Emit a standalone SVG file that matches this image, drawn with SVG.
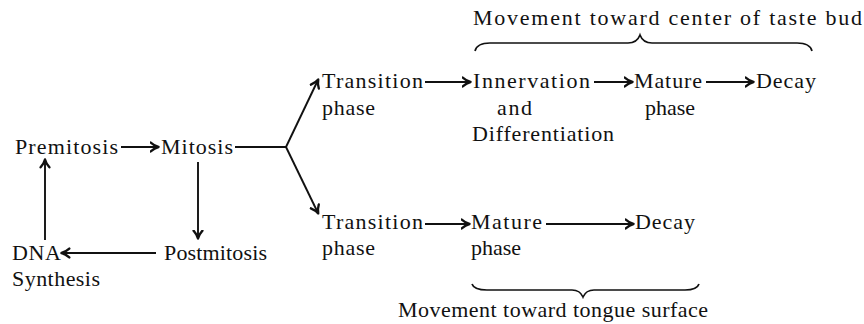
<svg xmlns="http://www.w3.org/2000/svg" width="864" height="324" viewBox="0 0 864 324" font-family="'Liberation Serif', 'Times New Roman', serif">
<style>
text{font-family:"Liberation Serif","Times New Roman",serif;font-size:22px;fill:#111}
.ln{stroke:#111;stroke-width:1.9;fill:none}
.ar{stroke:#111;stroke-width:1.9;fill:none;marker-end:url(#ah)}
.br{stroke:#111;stroke-width:1.7;fill:none}
</style>
<defs>
<marker id="ah" markerUnits="userSpaceOnUse" markerWidth="12" markerHeight="12" refX="8.5" refY="5" orient="auto" viewBox="0 0 12 10">
<path d="M1.2,0.6 Q5,4 9,5 Q5,6 1.2,9.4" stroke="#111" stroke-width="2.4" fill="none" stroke-linejoin="round" stroke-linecap="round"/>
</marker>
</defs>
<rect width="864" height="324" fill="#fff"/>
<g id="connectors">
<line class="ar" x1="121" y1="147" x2="158" y2="147"/>
<line class="ln" x1="235" y1="147" x2="286" y2="147"/>
<line class="ar" x1="286" y1="147" x2="318" y2="80"/>
<line class="ar" x1="286" y1="147" x2="318" y2="213"/>
<line class="ar" x1="198" y1="162" x2="198" y2="238"/>
<line class="ar" x1="156" y1="253" x2="62" y2="253"/>
<line class="ar" x1="45" y1="240" x2="45" y2="160"/>
<line class="ar" x1="425" y1="82" x2="470" y2="82"/>
<line class="ar" x1="594" y1="82" x2="632" y2="82"/>
<line class="ar" x1="706" y1="82" x2="753" y2="82"/>
<line class="ar" x1="425" y1="224" x2="469" y2="224"/>
<line class="ar" x1="546" y1="224" x2="633" y2="224"/>
</g>
<g id="brace-top">
<path class="br" d="M475,51 Q477,43 490,43 L628,43 Q637,43 640,35 Q643,43 652,43 L797,43 Q810,43 812,51"/>
<text x="473" y="25" textLength="389" lengthAdjust="spacing">Movement toward center of taste bud</text>
</g>
<g id="brace-bottom">
<path class="br" d="M472,284 Q474,290 487,290 L572,290 Q580,290 583,297 Q586,290 594,290 L685,290 Q697,290 699,284"/>
<text x="398" y="317" textLength="310" lengthAdjust="spacing">Movement toward tongue surface</text>
</g>
<g id="premitosis"><text x="15" y="154" textLength="103" lengthAdjust="spacing">Premitosis</text></g>
<g id="mitosis"><text x="161" y="154" textLength="72" lengthAdjust="spacing">Mitosis</text></g>
<g id="postmitosis"><text x="164" y="260" textLength="103" lengthAdjust="spacing">Postmitosis</text></g>
<g id="dna-synthesis">
<text x="12" y="260" textLength="49" lengthAdjust="spacing">DNA</text>
<text x="12" y="286" textLength="88" lengthAdjust="spacing">Synthesis</text>
</g>
<g id="transition-top">
<text x="322" y="88" textLength="101" lengthAdjust="spacing">Transition</text>
<text x="322" y="115" textLength="53" lengthAdjust="spacing">phase</text>
</g>
<g id="innervation">
<text x="473" y="88" textLength="117" lengthAdjust="spacing">Innervation</text>
<text x="497" y="115" textLength="35" lengthAdjust="spacing">and</text>
<text x="472" y="141" textLength="142" lengthAdjust="spacing">Differentiation</text>
</g>
<g id="mature-top">
<text x="634" y="88" textLength="68" lengthAdjust="spacing">Mature</text>
<text x="645" y="115" textLength="50" lengthAdjust="spacing">phase</text>
</g>
<g id="decay-top"><text x="756" y="88" textLength="60" lengthAdjust="spacing">Decay</text></g>
<g id="transition-bottom">
<text x="322" y="229" textLength="101" lengthAdjust="spacing">Transition</text>
<text x="322" y="255" textLength="53" lengthAdjust="spacing">phase</text>
</g>
<g id="mature-bottom">
<text x="471" y="229" textLength="71" lengthAdjust="spacing">Mature</text>
<text x="471" y="255" textLength="50" lengthAdjust="spacing">phase</text>
</g>
<g id="decay-bottom"><text x="635" y="229" textLength="60" lengthAdjust="spacing">Decay</text></g>
</svg>
